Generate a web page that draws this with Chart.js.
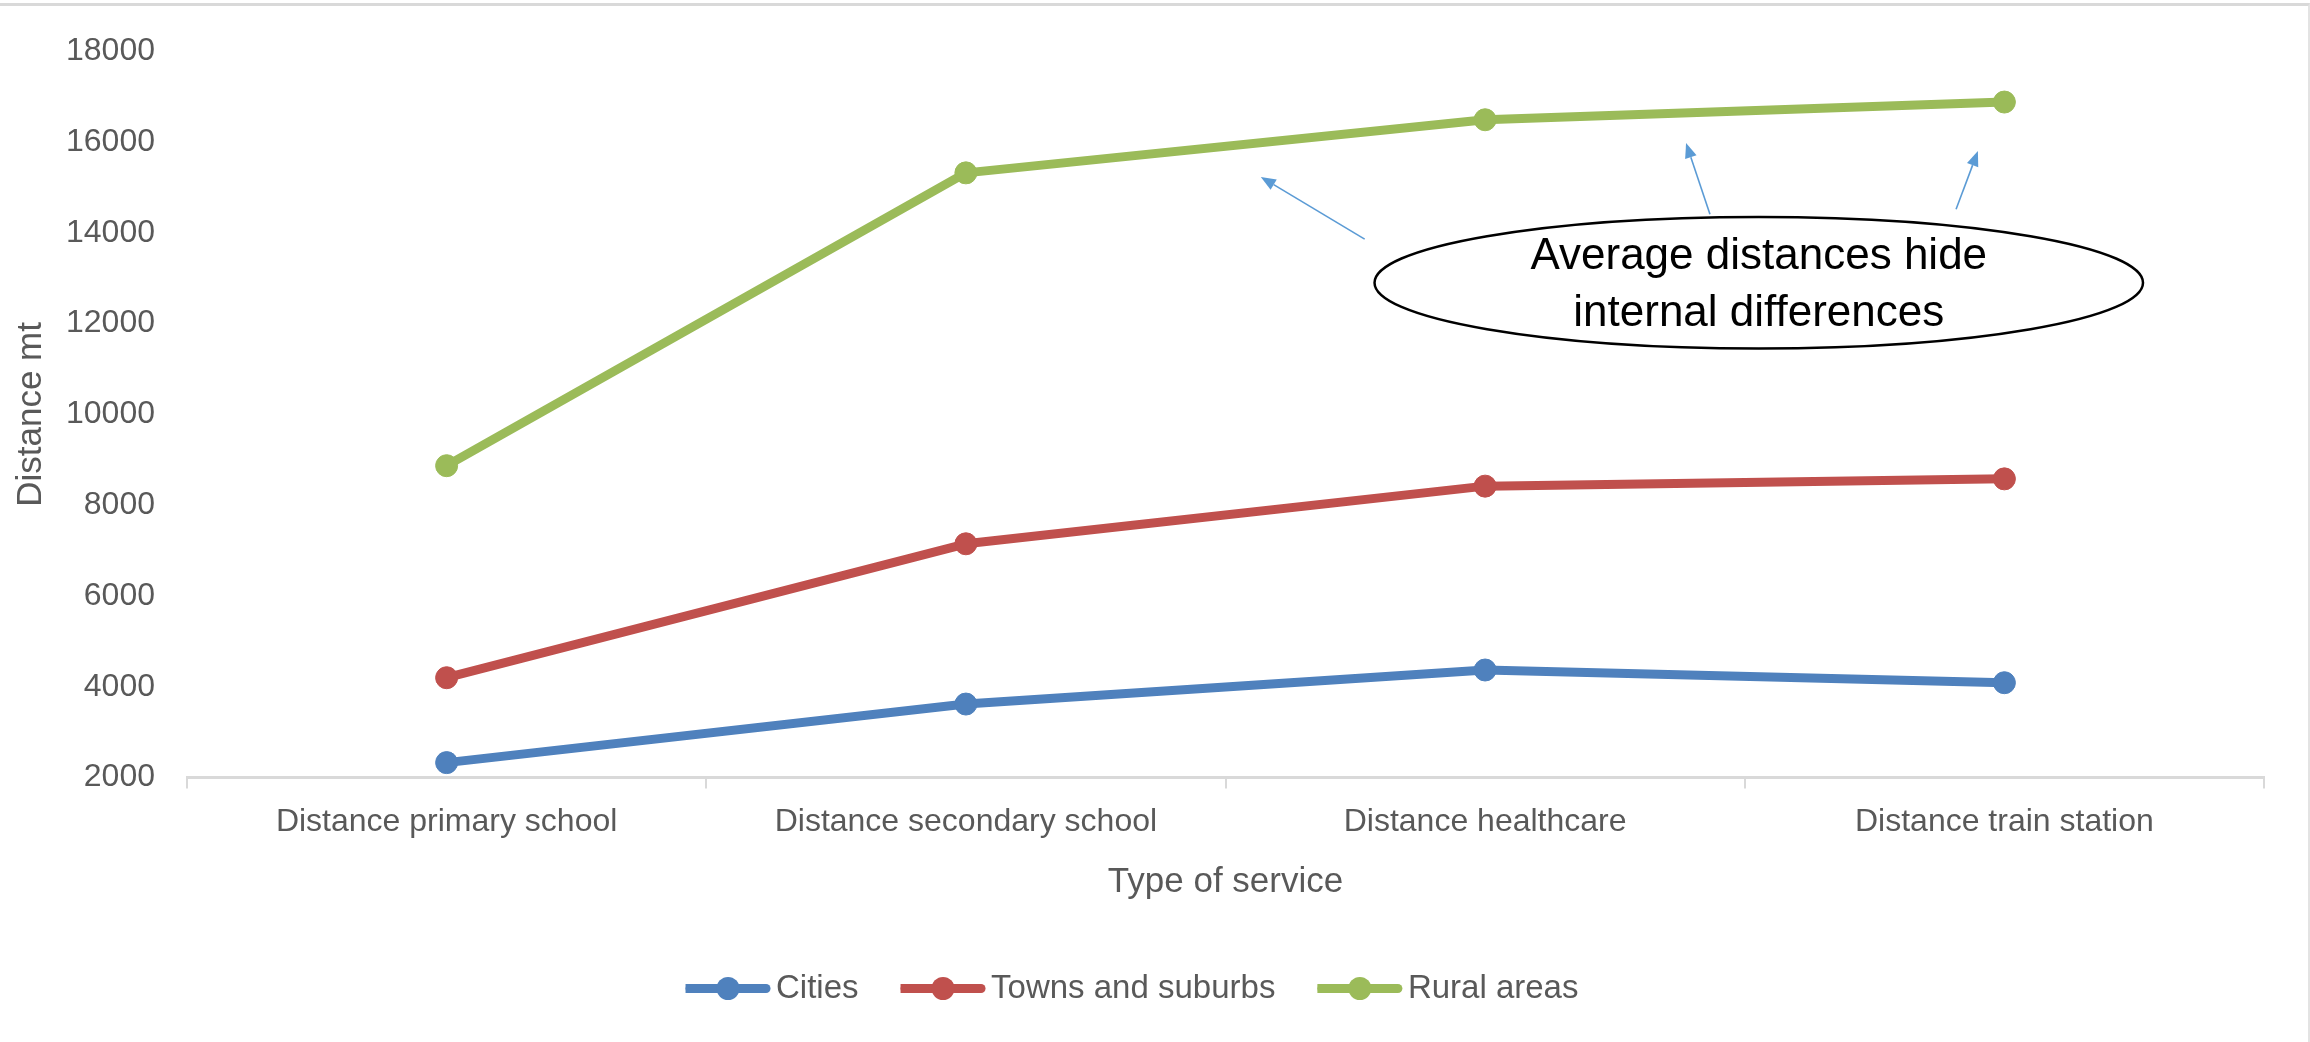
<!DOCTYPE html>
<html>
<head>
<meta charset="utf-8">
<script src="https://cdn.jsdelivr.net/npm/chart.js@4.4.1/dist/chart.umd.min.js"></script>
<style>
  html, body { margin: 0; padding: 0; background: #fff; }
  #wrap { position: relative; width: 2310px; height: 1042px; }
  #frame { position: absolute; left: 0; top: 3px; width: 2310px; height: 1039px; box-sizing: border-box;
           border-top: 3px solid #d9d9d9; border-right: 2px solid #e3e3e3; pointer-events: none; }
</style>
</head>
<body>
<div id="wrap">
  <canvas id="chart" width="2310" height="1042"></canvas>
  <div id="frame"></div>
</div>
<script>
const categories = ['Distance primary school', 'Distance secondary school', 'Distance healthcare', 'Distance train station'];
const cities = [2330, 3620, 4370, 4090];
const towns = [4200, 7150, 8420, 8580];
const rural = [8870, 15320, 16490, 16880];
const yMin = 2000, yMax = 18000, yStep = 2000;

// callout, in category index / metres
const noteLines = ['Average distances hide', 'internal differences'];
const noteCenter = [2.527, 12900];
const noteRadius = [0.74, 1450];
const arrows = [
  { from: [1.768, 13860], to: [1.568, 15230] },
  { from: [2.433, 14410], to: [2.387, 15980] },
  { from: [2.907, 14520], to: [2.949, 15800] }
];

const font = '"Liberation Sans", Arial, sans-serif';
const grey = '#595959';
const legendLine = 85;

// legend key: a short thick line with the marker in the middle
const legendMarkers = {
  id: 'legendMarkers',
  afterDraw(chart) {
    const lg = chart.legend;
    if (!lg || !lg.legendHitBoxes) return;
    const ctx = chart.ctx;
    ctx.save();
    lg.legendHitBoxes.forEach((hb, i) => {
      const ds = chart.data.datasets[i];
      const cy = hb.top + hb.height / 2;
      ctx.strokeStyle = ds.borderColor;
      ctx.fillStyle = ds.borderColor;
      ctx.lineWidth = 9;
      ctx.lineCap = 'round';
      ctx.beginPath();
      ctx.moveTo(hb.left + 4.5, cy);
      ctx.lineTo(hb.left + legendLine - 4.5, cy);
      ctx.stroke();
      ctx.beginPath();
      ctx.arc(hb.left + legendLine / 2, cy, 11.5, 0, Math.PI * 2);
      ctx.fill();
    });
    ctx.restore();
  }
};

const callout = {
  id: 'callout',
  afterDatasetsDraw(chart) {
    const { ctx, scales: { x, y } } = chart;
    ctx.save();
    ctx.strokeStyle = '#5b9bd5';
    ctx.fillStyle = '#5b9bd5';
    ctx.lineWidth = 1.6;
    arrows.forEach(a => {
      const x1 = x.getPixelForValue(a.from[0]), y1 = y.getPixelForValue(a.from[1]);
      const x2 = x.getPixelForValue(a.to[0]), y2 = y.getPixelForValue(a.to[1]);
      const ang = Math.atan2(y2 - y1, x2 - x1);
      const head = 15, half = 6;
      const bx = x2 - head * Math.cos(ang), by = y2 - head * Math.sin(ang);
      ctx.beginPath();
      ctx.moveTo(x1, y1);
      ctx.lineTo(bx, by);
      ctx.stroke();
      ctx.beginPath();
      ctx.moveTo(x2, y2);
      ctx.lineTo(bx + half * Math.sin(ang), by - half * Math.cos(ang));
      ctx.lineTo(bx - half * Math.sin(ang), by + half * Math.cos(ang));
      ctx.closePath();
      ctx.fill();
    });

    const cx = x.getPixelForValue(noteCenter[0]), cy = y.getPixelForValue(noteCenter[1]);
    const rx = x.getPixelForValue(noteCenter[0] + noteRadius[0]) - cx;
    const ry = cy - y.getPixelForValue(noteCenter[1] + noteRadius[1]);
    ctx.beginPath();
    ctx.ellipse(cx, cy, rx, ry, 0, 0, Math.PI * 2);
    ctx.fillStyle = '#fff';
    ctx.fill();
    ctx.strokeStyle = '#000';
    ctx.lineWidth = 2.5;
    ctx.stroke();

    ctx.fillStyle = '#000';
    ctx.font = '44px ' + font;
    ctx.textAlign = 'center';
    ctx.textBaseline = 'middle';
    ctx.fillText(noteLines[0], cx, cy - 26);
    ctx.fillText(noteLines[1], cx, cy + 31);
    ctx.restore();
  }
};

function series(label, data, color) {
  return {
    label, data,
    borderColor: color, backgroundColor: color,
    borderWidth: 9, borderCapStyle: 'round', borderJoinStyle: 'round',
    pointRadius: 11, pointBorderWidth: 1, pointBackgroundColor: color, pointBorderColor: color,
    tension: 0, fill: false
  };
}

new Chart(document.getElementById('chart'), {
  type: 'line',
  data: {
    labels: categories,
    datasets: [
      series('Cities', cities, '#4f81bd'),
      series('Towns and suburbs', towns, '#c0504d'),
      series('Rural areas', rural, '#9bbb59')
    ]
  },
  options: {
    responsive: false,
    animation: false,
    layout: { padding: { top: 50, right: 46, bottom: 27, left: 0 } },
    plugins: {
      tooltip: { enabled: false },
      legend: {
        position: 'bottom',
        labels: {
          boxWidth: 74, boxHeight: 9,
          padding: 42, color: grey, font: { family: font, size: 33 },
          generateLabels: chart => Chart.defaults.plugins.legend.labels.generateLabels(chart)
            .map(item => ({ ...item, lineWidth: 0 }))
        }
      }
    },
    scales: {
      x: {
        offset: true,
        grid: { offset: true, display: true, drawOnChartArea: false, drawTicks: true, tickLength: 11, color: '#d9d9d9', lineWidth: 2 },
        border: { display: true, color: '#d9d9d9', width: 3 },
        ticks: { color: grey, padding: 14, maxRotation: 0, font: { family: font, size: 32 } },
        title: { display: true, text: 'Type of service', color: grey, padding: { top: 6, bottom: 27 }, font: { family: font, size: 35 } }
      },
      y: {
        min: yMin, max: yMax,
        afterFit: s => { s.width = 187; },
        grid: { display: false, drawTicks: false },
        border: { display: false },
        ticks: { stepSize: yStep, color: grey, padding: 32, font: { family: font, size: 32 }, callback: v => String(v) },
        title: { display: true, text: 'Distance mt', color: grey, padding: { top: 10, bottom: 0 }, font: { family: font, size: 35 } }
      }
    }
  },
  plugins: [callout, legendMarkers]
});
</script>
</body>
</html>
